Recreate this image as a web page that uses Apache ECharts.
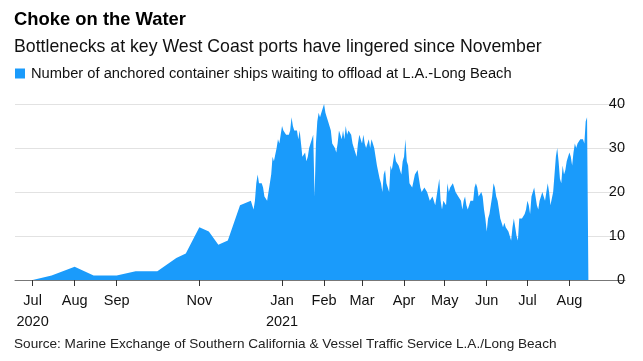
<!DOCTYPE html>
<html>
<head>
<meta charset="utf-8">
<script src="https://cdn.jsdelivr.net/npm/echarts@6/dist/echarts.min.js"></script>
<style>
html,body{margin:0;padding:0;background:#fff;}
#chart{width:643px;height:361px;}
</style>
</head>
<body>
<div id="chart"></div>
<script>
// Sparse early readings (2020)
var earlyDates = ['2020-06-18','2020-07-01','2020-07-15','2020-08-01','2020-08-15','2020-09-01','2020-09-15','2020-10-01','2020-10-15','2020-10-22','2020-11-01','2020-11-08','2020-11-15','2020-11-22','2020-12-01'];
var earlyValues = [0,0,1,3,1,1,2,2,5,6,12,11,8,9,17];

// Daily readings from 2020-12-09 to 2021-08-15
var dailyStart = '2020-12-09';
var dailyValues = [
 18,17,16,18,22,24,22,22,22,21,
 19,19,18,20,20,24,28,27,27,30,
 32,31,33,35,34,34,33,33,33,34,
 37,35,34,34,34,32,34,31,28,28,
 29,27,28,30,31,32,33,19,31,36,
 38,37,38,38,40,38,37,36,35,34,
 31,31,30,29,31,34,33,32,34,32,
 35,33,34,34,33,31,30,30,28,31,
 33,33,31,33,31,30,30,32,30,32,
 32,30,28,26,26,23,22,20,24,25,
 22,21,20,26,25,27,29,27,27,26,
 25,24,27,28,32,27,26,22,22,21,
 21,24,24,25,23,21,20,20,21,21,
 20,20,18,18,19,19,17,19,21,23,
 18,16,18,18,17,22,20,21,21,22,
 21,20,20,19,19,18,16,18,19,17,
 16,17,18,18,18,21,22,21,19,19,
 20,19,16,14,11,14,15,17,19,22,
 21,19,18,16,14,13,12,13,12,12,
 11,10,9,12,14,12,10,9,14,14,
 14,14,15,16,18,17,15,19,20,21,
 19,17,16,18,19,20,19,18,20,22,
 20,17,17,20,24,28,30,27,23,22,
 26,24,25,27,28,29,28,26,29,31,
 30,31,31,32,32,32,31,36,37,37
];

var tickDates = ['2020-07-01','2020-08-01','2020-09-01','2020-11-01','2021-01-01','2021-02-01','2021-03-01','2021-04-01','2021-05-01','2021-06-01','2021-07-01','2021-08-01'];
var tickLabels = ['Jul\n2020','Aug','Sep','Nov','Jan\n2021','Feb','Mar','Apr','May','Jun','Jul','Aug'];
var yTicks = [0,10,20,30,40];

var seriesName = 'Number of anchored container ships waiting to offload at L.A.-Long Beach';
var FONT = '"Liberation Sans", Arial, sans-serif';
var BLUE = '#1a9bfb';

function ts(s){ var p = s.split('-'); return Date.UTC(+p[0], +p[1]-1, +p[2]); }

var data = [];
for (var i = 0; i < earlyDates.length; i++) data.push([ts(earlyDates[i]), earlyValues[i]]);
var sp = dailyStart.split('-');
for (var j = 0; j < dailyValues.length; j++) {
  data.push([Date.UTC(+sp[0], +sp[1]-1, +sp[2] + j), dailyValues[j]]);
}
var tickTs = tickDates.map(ts);
var labelMap = {};
tickTs.forEach(function(t, k){ labelMap[t] = tickLabels[k]; });

var chart = echarts.init(document.getElementById('chart'), null, {renderer:'canvas'});
chart.setOption({
  animation: false,
  backgroundColor: '#fff',
  title: [
    {text: 'Choke on the Water', left: 14, top: 11, padding: 0,
     textStyle: {fontFamily: FONT, fontSize: 18.4, fontWeight: 'bold', color: '#000'}},
    {text: 'Bottlenecks at key West Coast ports have lingered since November', left: 14, top: 38, padding: 0,
     textStyle: {fontFamily: FONT, fontSize: 17.7, fontWeight: 'normal', color: '#111'}},
    {text: 'Source: Marine Exchange of Southern California & Vessel Traffic Service L.A./Long Beach', left: 14, top: 337, padding: 0,
     textStyle: {fontFamily: FONT, fontSize: 13.6, fontWeight: 'normal', color: '#222'}}
  ],
  legend: {
    left: 15, top: 66, padding: 0, itemWidth: 10, itemHeight: 10, itemGap: 10,
    icon: 'rect',
    textStyle: {fontFamily: FONT, fontSize: 14.7, color: '#111', padding: [0,0,0,1]},
    data: [seriesName]
  },
  grid: {left: 15, right: 18, top: 104, bottom: 81, containLabel: false},
  xAxis: {
    type: 'value',
    min: ts('2020-06-18'),
    max: ts('2021-09-11'),
    splitLine: {show: false},
    axisLine: {lineStyle: {color: '#777', width: 1}},
    axisTick: {show: true, length: 6, lineStyle: {color: '#333', width: 1}, customValues: tickTs},
    axisLabel: {
      customValues: tickTs,
      margin: 10,
      fontFamily: FONT, fontSize: 14.5, color: '#111', lineHeight: 21,
      formatter: function(v){ return labelMap[v] !== undefined ? labelMap[v] : ''; }
    }
  },
  yAxis: {
    type: 'value',
    position: 'right',
    min: 0, max: 40, interval: 10,
    axisLine: {show: false},
    axisTick: {show: false},
    splitLine: {lineStyle: {color: '#e2e2e2', width: 1}},
    axisLabel: {
      inside: true, margin: 0,
      fontFamily: FONT, fontSize: 14.5, color: '#111',
      verticalAlign: 'middle', padding: [0,0,28,0],
      formatter: function(v){ return yTicks.indexOf(v) >= 0 ? String(v) : ''; }
    }
  },
  series: [{
    name: seriesName,
    type: 'line',
    data: data,
    showSymbol: false,
    symbol: 'none',
    itemStyle: {color: BLUE},
    lineStyle: {width: 0, color: BLUE},
    areaStyle: {color: BLUE, opacity: 1}
  }]
});
</script>
</body>
</html>
